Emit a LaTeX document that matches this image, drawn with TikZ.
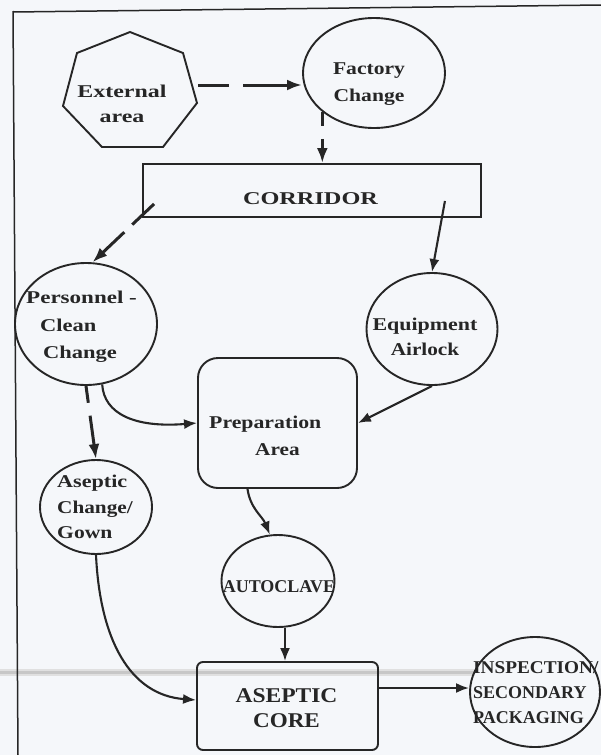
\documentclass[tikz,border=0pt]{standalone}
\usepackage{fontspec}
\setmainfont{Liberation Serif}
\usepackage{graphicx}
\usetikzlibrary{shapes.geometric,arrows.meta,calc}
\newcommand\hs[2]{\scalebox{#1}[1]{#2}}
\definecolor{ink}{HTML}{262626}
\definecolor{paper}{HTML}{F5F7FA}
\begin{document}
\begin{tikzpicture}[x=1pt,y=-1pt,
  shp/.style={draw=ink, line width=1.9pt},
  ell/.style={shp, ellipse, inner sep=0pt},
  txt/.style={inner sep=0pt, text=ink, font=\fontsize{18}{25}\selectfont\bfseries},
  arr/.style={draw=ink, line width=2.1pt, -{Latex[length=13pt,width=10pt]}},
  darr/.style={draw=ink, line width=3pt, -{Latex[length=15pt,width=11pt]}},
]
\fill[paper] (0,0) rectangle (601,755);
\useasboundingbox (0,0) rectangle (601,755);
% scan streak
\draw[black!12, line width=7pt] (0,672) -- (475,672);
\draw[black!22, line width=3pt] (0,672) -- (475,672);
% frame
\draw[ink, line width=1.5pt] (13,12) -- (601,5);
\draw[ink, line width=1.5pt] (13,11) -- (18,755);

% shapes
\draw[shp] (130,32) -- (183,53) -- (197,103) -- (163,147) -- (102,147) -- (63,106) -- (77,53) -- cycle;
\coordinate (extR) at (198,85);
\node[ell, minimum width=142pt, minimum height=110pt] (fc) at (374,73) {};
\node[shp, rectangle, minimum width=338pt, minimum height=53pt, inner sep=0pt] (cor) at (312,190.5) {};
\node[ell, minimum width=142pt, minimum height=122pt] (pers) at (86,324) {};
\node[ell, minimum width=131pt, minimum height=112pt] (eq) at (432,329) {};
\node[shp, rectangle, rounded corners=20pt, minimum width=159pt, minimum height=130pt, inner sep=0pt] (prep) at (277.5,423) {};
\node[ell, minimum width=112pt, minimum height=94pt] (asc) at (96,507) {};
\node[ell, minimum width=113pt, minimum height=92pt] (auto) at (278,581) {};
\node[shp, rectangle, rounded corners=6pt, minimum width=181pt, minimum height=88pt, inner sep=0pt] (core) at (287.5,706) {};
\node[ell, minimum width=130pt, minimum height=110pt] (insp) at (535,692) {};

% texts
\node[txt, anchor=north, align=center] (extT) at (122,85) {\hs{1.33}{External}\\\hs{1.33}{area}};
\node[txt, anchor=north, align=center, font=\fontsize{18}{27}\selectfont\bfseries] (fcT) at (369,63) {\hs{1.2}{Factory}\\\hs{1.2}{Change}};
\node[txt, anchor=north] (corT) at (310.5,192) {\hs{1.35}{CORRIDOR}};
\node[txt, anchor=north west, align=left, font=\fontsize{18}{27.5}\selectfont\bfseries] (persT) at (26,291) {\hs{1.28}{Personnel -}\\\hspace*{14pt}\hs{1.25}{Clean}\\\hspace*{17pt}\hs{1.25}{Change}};
\node[txt, anchor=north, align=center] (eqT) at (425,318) {\hs{1.22}{Equipment}\\\hs{1.18}{Airlock}};
\node[txt, anchor=north west, align=left, font=\fontsize{18}{27}\selectfont\bfseries] (prepT) at (209,416) {\hs{1.21}{Preparation}\\\hspace*{46pt}\hs{1.18}{Area}};
\node[txt, anchor=north west, align=left, font=\fontsize{18}{25.5}\selectfont\bfseries] (ascT) at (57,475) {\hs{1.23}{Aseptic}\\\hs{1.18}{Change/}\\\hs{1.2}{Gown}};
\node[txt, anchor=north] (autoT) at (279,580) {AUTOCLAVE};
\node[txt, anchor=north, align=center, font=\fontsize{21}{25}\selectfont\bfseries] (coreT) at (286.5,688) {\hs{1.12}{ASEPTIC}\\\hs{1.1}{CORE}};
\node[txt, anchor=north west, align=left, font=\fontsize{18}{25}\selectfont\bfseries] (inspT) at (473,661) {\hs{1.07}{INSPECTION/}\\SECONDARY\\PACKAGING};

% connectors
\draw[darr, dash pattern=on 31pt off 14pt on 80pt] (extR) -- (extR -| fc.west);
\draw[darr, dash pattern=on 14pt off 13pt on 60pt] (fc.217) -- (fc.217 |- cor.north);
\draw[darr, dash pattern=on 30pt off 11pt on 80pt] ($(cor.south west)+(12,-14)$) -- (pers.84);
\draw[arr] ($(cor.south east)+(-37,-17)$) -- (eq.north);
\draw[darr, dash pattern=on 17pt off 13pt on 60pt] (pers.south) -- (asc.north);
\draw[arr] (pers.285) .. controls (104,414) and (135,428) .. (prep.west);
\draw[arr] (eq.south) -- (prep.east);
\draw[arr] ($(prep.south)+(-30,0)$) to[out=-82,in=112] (auto.100);
\draw[arr] ($(auto.south)+(7,0)$) -- ($(core.north)+(-2.5,0)$);
\draw[arr] (asc.south) .. controls (100,640) and (130,695) .. ($(core.west)+(0,-6)$);
\draw[arr] ($(core.east)+(0,-18)$) -- (insp.west |- 0,688);
\end{tikzpicture}
\end{document}
